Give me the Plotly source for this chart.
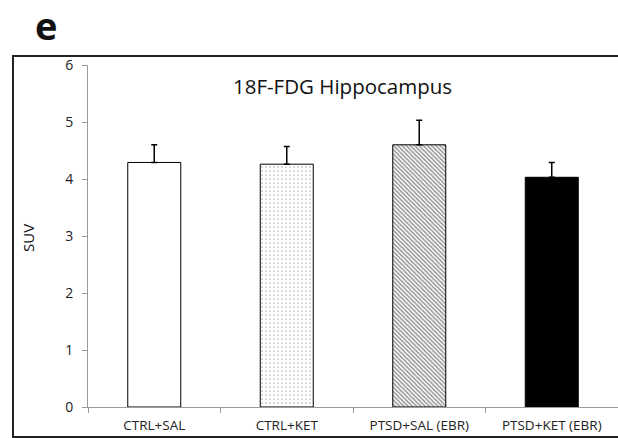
import plotly.graph_objects as go

categories = ["CTRL+SAL", "CTRL+KET", "PTSD+SAL (EBR)", "PTSD+KET (EBR)"]
suv_mean = [4.29, 4.26, 4.60, 4.03]
suv_err = [0.31, 0.31, 0.43, 0.26]
y_ticks = [0, 1, 2, 3, 4, 5, 6]

patterns = [
    dict(shape="", bgcolor="white"),
    dict(shape=".", fgcolor="#6f6f6f", bgcolor="white", size=4, solidity=0.15),
    dict(shape="\\", fgcolor="#2a2a2a", bgcolor="white", size=3, solidity=0.5),
    dict(shape="", bgcolor="black"),
]
fills = ["white", "white", "white", "black"]

fig = go.Figure()
for i, cat in enumerate(categories):
    fig.add_trace(go.Bar(
        x=[cat], y=[suv_mean[i]],
        width=0.40,
        marker=dict(color=fills[i], line=dict(color="black", width=1), pattern=patterns[i]),
        error_y=dict(type="data", array=[suv_err[i]], arrayminus=[0], symmetric=False,
                     color="black", thickness=1.5, width=3),
        showlegend=False,
    ))

L, R, T, B = 88, 0, 65, 31
W, H = 618, 438
pw, ph = W - L - R, H - T - B

def px(x):
    return (x - L) / pw

def py(y):
    return (H - B - y) / ph

fig.update_layout(
    width=W, height=H,
    margin=dict(l=L, r=R, t=T, b=B),
    paper_bgcolor="white", plot_bgcolor="white",
    font=dict(family="Open Sans", color="#222222"),
    xaxis=dict(
        type="category", range=[-0.5, 3.5],
        showline=True, linecolor="#9a9a9a", linewidth=1,
        ticks="outside", tickson="boundaries", ticklen=5, tickcolor="#9a9a9a",
        tickfont=dict(size=13.5, color="#222222"),
        ticklabelstandoff=6,
        showgrid=False, zeroline=False,
    ),
    yaxis=dict(
        range=[0, 6], tickvals=y_ticks,
        showline=True, linecolor="#9a9a9a", linewidth=1,
        ticks="outside", ticklen=5, tickcolor="#9a9a9a",
        tickfont=dict(size=14, color="#222222"),
        ticklabelstandoff=6,
        showgrid=False, zeroline=False,
    ),
    shapes=[
        dict(type="rect", xref="paper", yref="paper",
             x0=px(13), x1=px(640), y0=py(437), y1=py(56),
             line=dict(color="#222222", width=2), fillcolor="rgba(0,0,0,0)", layer="above"),
    ],
    annotations=[
        dict(text="<b>e</b>", xref="paper", yref="paper", x=px(46), y=py(25),
             xanchor="center", yanchor="middle", showarrow=False,
             font=dict(size=38, color="#111111", family="Open Sans")),
        dict(text="18F-FDG Hippocampus", xref="paper", yref="paper", x=px(342), y=py(86),
             xanchor="center", yanchor="middle", showarrow=False,
             font=dict(size=20.5, color="#111111")),
        dict(text="SUV", xref="paper", yref="paper", x=px(28), y=py(238),
             xanchor="center", yanchor="middle", showarrow=False, textangle=-90,
             font=dict(size=15, color="#111111")),
    ],
)

fig.write_html("out.html")
